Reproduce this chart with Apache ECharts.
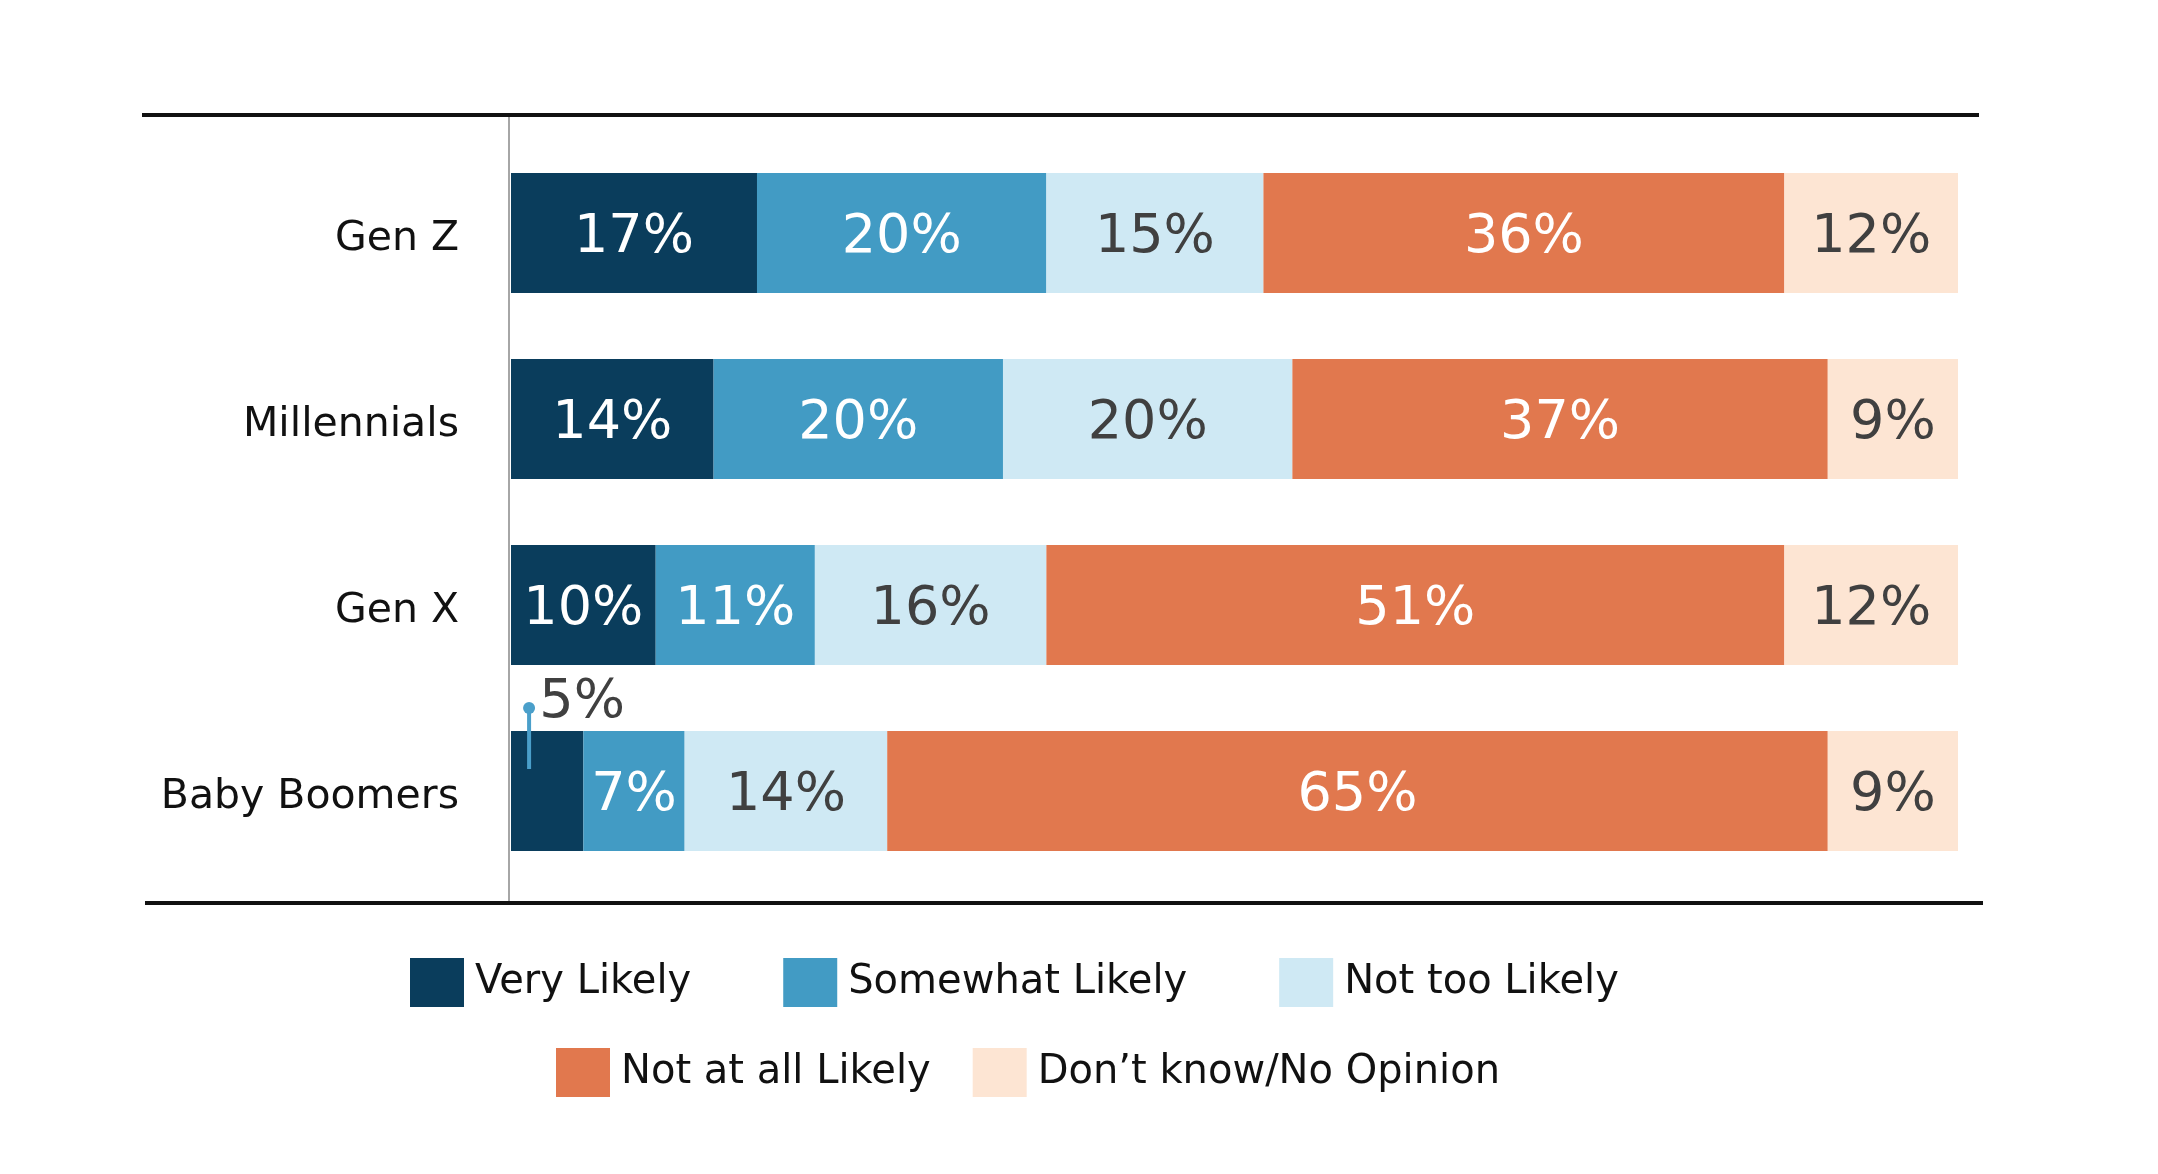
<!DOCTYPE html>
<html>
<head>
<meta charset="utf-8">
<script src="https://cdn.jsdelivr.net/npm/echarts@6/dist/echarts.min.js"></script>
<style>
  html, body { margin: 0; padding: 0; background: #fff; }
  #main { width: 2158px; height: 1174px; }
</style>
</head>
<body>
<div id="main"></div>
<script>
var categories = ['Gen Z', 'Millennials', 'Gen X', 'Baby Boomers'];
var seriesNames = ['Very Likely', 'Somewhat Likely', 'Not too Likely', 'Not at all Likely', 'Don\u2019t know/No Opinion'];
var veryLikely = [17, 14, 10, 5];
var somewhatLikely = [20, 20, 11, 7];
var notTooLikely = [15, 20, 16, 14];
var notAtAllLikely = [36, 37, 51, 65];
var dontKnow = [12, 9, 12, 9];

var colors = ['#0a3d5c', '#429bc4', '#cfe9f4', '#e1784e', '#fde5d3'];
var labelColors = ['#ffffff', '#ffffff', '#404040', '#ffffff', '#404040'];
var FONT = 'DejaVu Sans';
var BAR_W = 120;

var chart = echarts.init(document.getElementById('main'));

// values too small to hold their label get it above the bar with a pin
function buildData(values) {
    return values.map(function(v) {
        if (v < 6) {
            return {
                value: v,
                label: { position: 'top', offset: [35, 4], color: '#404040' }
            };
        }
        return v;
    });
}

var allValues = [veryLikely, somewhatLikely, notTooLikely, notAtAllLikely, dontKnow];
var series = allValues.map(function(vals, i) {
    return {
        name: seriesNames[i],
        type: 'bar',
        stack: 'total',
        barWidth: BAR_W,
        itemStyle: { color: colors[i] },
        label: {
            show: true,
            position: 'inside',
            offset: [0, 5],
            formatter: '{c}%',
            color: labelColors[i],
            fontFamily: FONT,
            fontSize: 54
        },
        data: buildData(vals)
    };
});

// pin for the small outside label
var pinData = [];
veryLikely.forEach(function(v, i) {
    if (v < 6) pinData.push([v / 4, i]);
});
series.push({
    type: 'custom',
    silent: true,
    z: 10,
    data: pinData,
    renderItem: function(params, api) {
        var p = api.coord([api.value(0), api.value(1)]);
        var top = p[1] - BAR_W / 2;
        return {
            type: 'group',
            children: [{
                type: 'line',
                shape: { x1: p[0], y1: top - 23, x2: p[0], y2: top + 38 },
                style: { stroke: '#4a9fca', lineWidth: 4 }
            }, {
                type: 'circle',
                shape: { cx: p[0], cy: top - 23, r: 6 },
                style: { fill: '#4a9fca' }
            }]
        };
    }
});

var legendBase = {
    orient: 'horizontal',
    icon: 'rect',
    itemWidth: 54,
    itemHeight: 49,
    padding: 0,
    textStyle: {
        fontFamily: FONT, fontSize: 40, color: '#111',
        padding: [0, 0, 0, 6], lineHeight: 8, verticalAlign: 'top'
    }
};

var option = {
    backgroundColor: '#fff',
    animation: false,
    color: colors,
    grid: { left: 511, right: 200, top: 140, bottom: 290 },
    xAxis: {
        type: 'value',
        min: 0,
        max: 100,
        show: false
    },
    yAxis: {
        type: 'category',
        inverse: true,
        data: categories,
        axisLine: { show: false },
        axisTick: { show: false },
        axisLabel: {
            margin: 52, color: '#111', fontFamily: FONT, fontSize: 41,
            lineHeight: 12, verticalAlign: 'top'
        }
    },
    legend: [
        Object.assign({}, legendBase, { left: 410, top: 958, itemGap: 92, data: seriesNames.slice(0, 3) }),
        Object.assign({}, legendBase, { left: 556, top: 1048, itemGap: 42, data: seriesNames.slice(3) })
    ],
    graphic: [{
        type: 'line',
        shape: { x1: 142, y1: 115, x2: 1979, y2: 115 },
        style: { stroke: '#111', lineWidth: 4 }
    }, {
        type: 'line',
        shape: { x1: 145, y1: 903, x2: 1983, y2: 903 },
        style: { stroke: '#111', lineWidth: 4 }
    }, {
        type: 'line',
        shape: { x1: 509, y1: 117, x2: 509, y2: 901 },
        style: { stroke: '#a6a6a6', lineWidth: 2 }
    }],
    series: series
};

chart.setOption(option);
</script>
</body>
</html>
